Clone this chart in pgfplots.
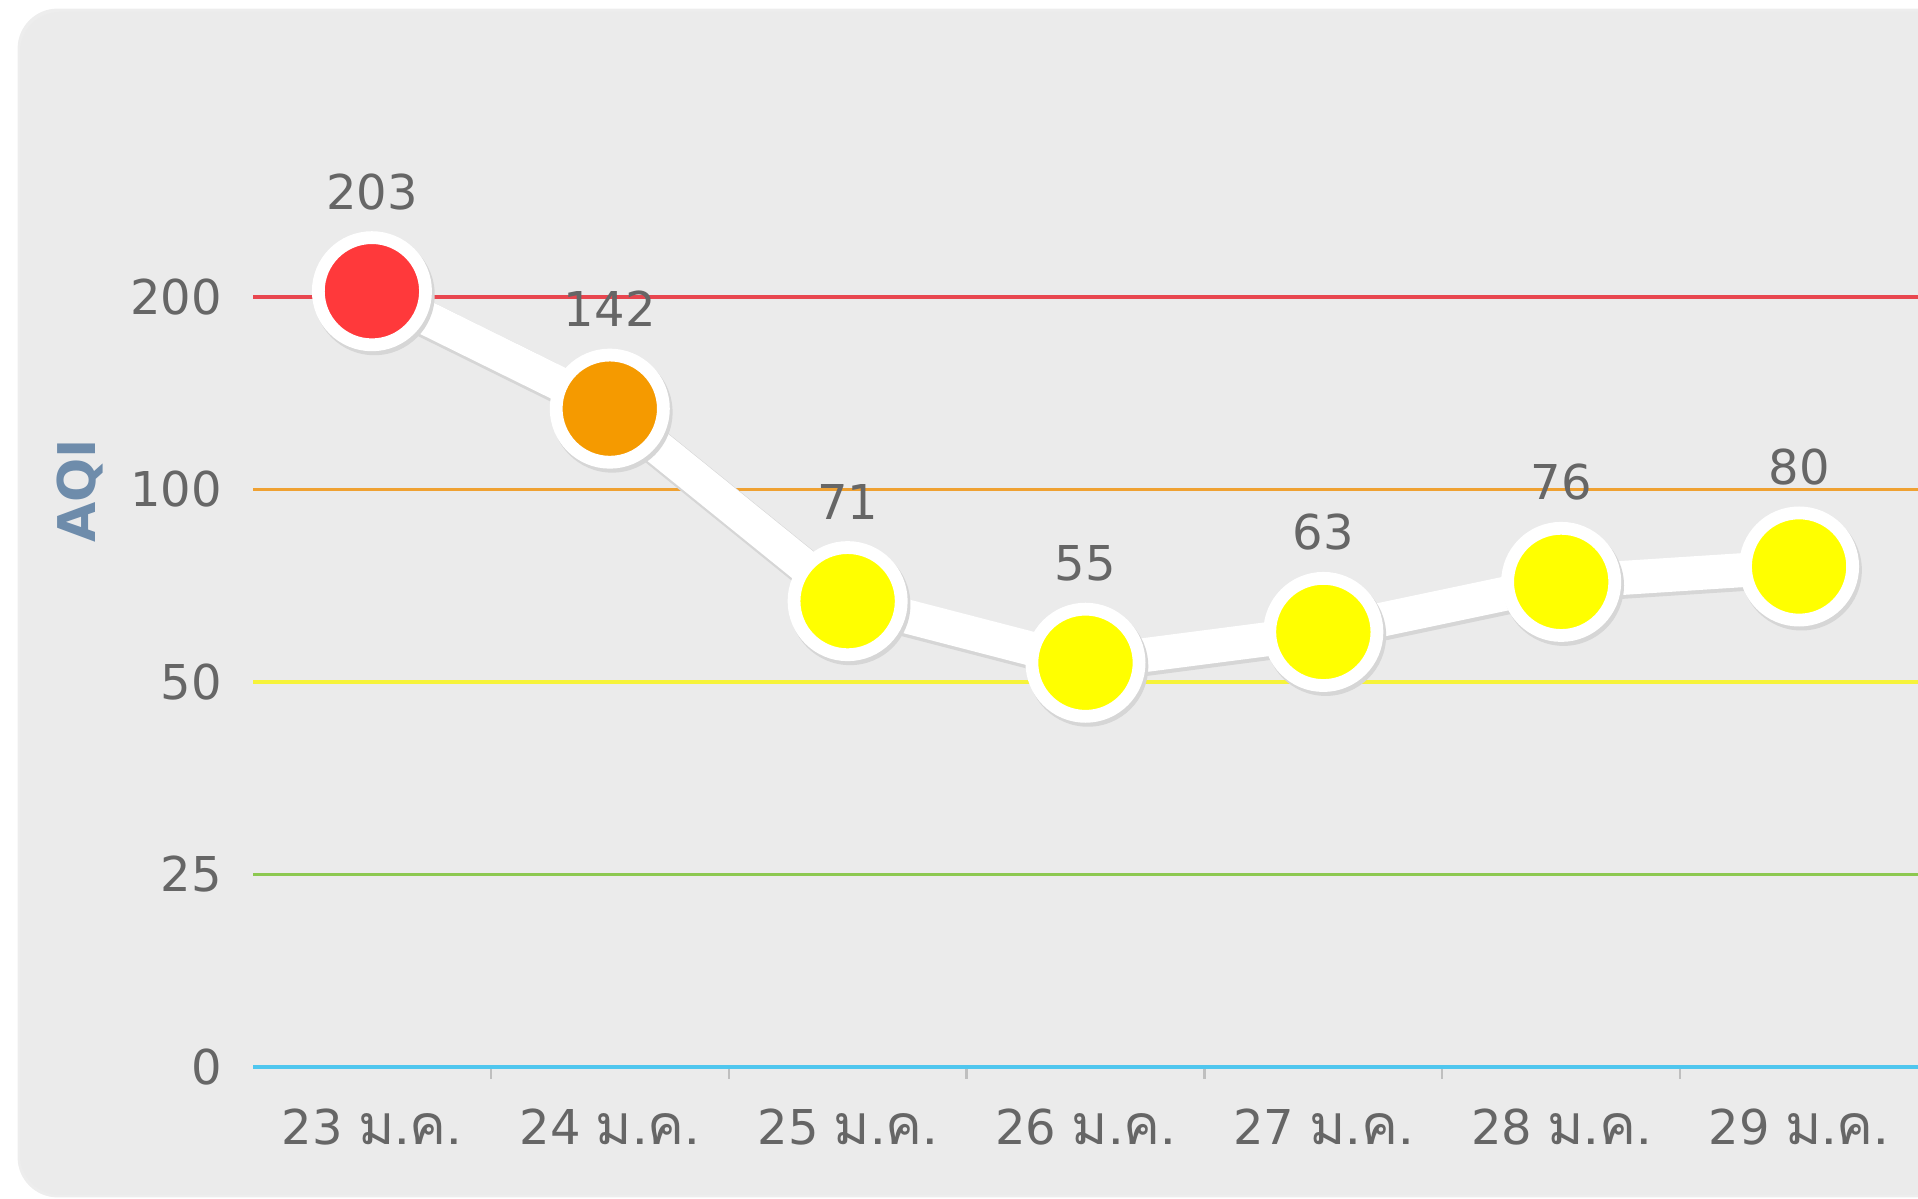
\documentclass[border=0pt]{standalone}
\usepackage{fontspec}
\setmainfont{DejaVu Sans}
\newfontfamily\thaifont[Script=Thai, Scale=1.15]{Loma}
\usepackage{pgfplots}
\pgfplotsset{compat=1.18}
\usepackage{pgfplotstable}
\definecolor{bg}{HTML}{EBEBEB}
\definecolor{shad}{HTML}{D6D6D6}
\definecolor{tickgray}{HTML}{666666}
\definecolor{aqiblue}{HTML}{6E8CAB}
\definecolor{lred}{HTML}{E8464F}
\definecolor{lorange}{HTML}{EFA132}
\definecolor{lyellow}{HTML}{F6F33A}
\definecolor{lgreen}{HTML}{8CC850}
\definecolor{lcyan}{HTML}{4FC6EE}
\definecolor{mred}{HTML}{FF393B}
\definecolor{morange}{HTML}{F59A00}
\definecolor{myellow}{HTML}{FFFF00}
% pos = position on the banded AQI scale (0,25,50,100,200 equally spaced)
\pgfplotstableread{
x pos aqi cls
0 4.03 203 r
1 3.42 142 o
2 2.42 71 y
3 2.10 55 y
4 2.26 63 y
5 2.52 76 y
6 2.60 80 y
}\aqidata
\begin{document}
\begin{tikzpicture}
\useasboundingbox (0,0) rectangle (479.5pt,299.75pt);
\clip (0,0) rectangle (479.5pt,299.75pt);
\fill[black!7, rounded corners=10pt] (4.4pt,0.4pt) rectangle (495pt,297.6pt);
\fill[bg, rounded corners=10pt] (5pt,1pt) rectangle (495pt,296.75pt);
\node[rotate=90, text=aqiblue, font=\fontsize{13}{15}\selectfont\bfseries] at (20pt,177pt) {AQI};
\begin{axis}[
  at={(63.25pt,33pt)}, anchor=south west,
  width=416.25pt, height=192.5pt, scale only axis,
  xmin=-0.5, xmax=6.5, ymin=0, ymax=4,
  clip=false,
  axis x line*=bottom, axis y line*=left,
  axis line style={draw=none},
  xtick={0,1,2,3,4,5,6},
  xticklabels={{23 {\thaifont ม.ค.}},{24 {\thaifont ม.ค.}},{25 {\thaifont ม.ค.}},{26 {\thaifont ม.ค.}},{27 {\thaifont ม.ค.}},{28 {\thaifont ม.ค.}},{29 {\thaifont ม.ค.}}},
  minor xtick={0.5,1.5,2.5,3.5,4.5,5.5},
  ytick={0,1,2,3,4},
  yticklabels={0,25,50,100,200},
  major tick length=0pt,
  minor tick length=3pt,
  tick align=outside,
  minor tick style={color=black!25, line width=0.6pt},
  tick label style={font=\fontsize{12}{14}\selectfont, text=tickgray},
  xticklabel style={anchor=base, yshift=-19.5pt},
  yticklabel style={anchor=east, xshift=-4.2pt},
]
\addplot[lcyan, line width=1.1pt] coordinates {(-0.5,0) (6.5,0)};
\addplot[lgreen, line width=0.8pt] coordinates {(-0.5,1) (6.5,1)};
\addplot[lyellow, line width=0.8pt] coordinates {(-0.5,2) (6.5,2)};
\addplot[lorange, line width=0.8pt] coordinates {(-0.5,3) (6.5,3)};
\addplot[lred, line width=0.8pt] coordinates {(-0.5,4) (6.5,4)};
% line shadow and line
\addplot[shad, line width=9.2pt, transform canvas={xshift=0.4pt,yshift=-0.6pt}] table[x=x,y=pos] {\aqidata};
\addplot[white, line width=8.5pt] table[x=x,y=pos] {\aqidata};
% marker shadows
\addplot[only marks, color=shad, mark=*, mark size=14.9pt, mark options={solid, color=shad, xshift=0.6pt, yshift=-0.9pt}] table[x=x,y=pos] {\aqidata};
% markers
\addplot[scatter, only marks, scatter src=explicit symbolic,
  scatter/classes={
    r={mark=*, mark size=13.4pt, draw=white, fill=mred, line width=3.2pt},
    o={mark=*, mark size=13.4pt, draw=white, fill=morange, line width=3.2pt},
    y={mark=*, mark size=13.4pt, draw=white, fill=myellow, line width=3.2pt}}
] table[x=x,y=pos,meta=cls] {\aqidata};
% value labels
\addplot[draw=none, mark=none, nodes near coords, point meta=explicit symbolic,
  nodes near coords style={anchor=base, yshift=20.5pt, font=\fontsize{12}{14}\selectfont, text=tickgray}
] table[x=x,y=pos,meta=aqi] {\aqidata};
\end{axis}
\end{tikzpicture}
\end{document}
